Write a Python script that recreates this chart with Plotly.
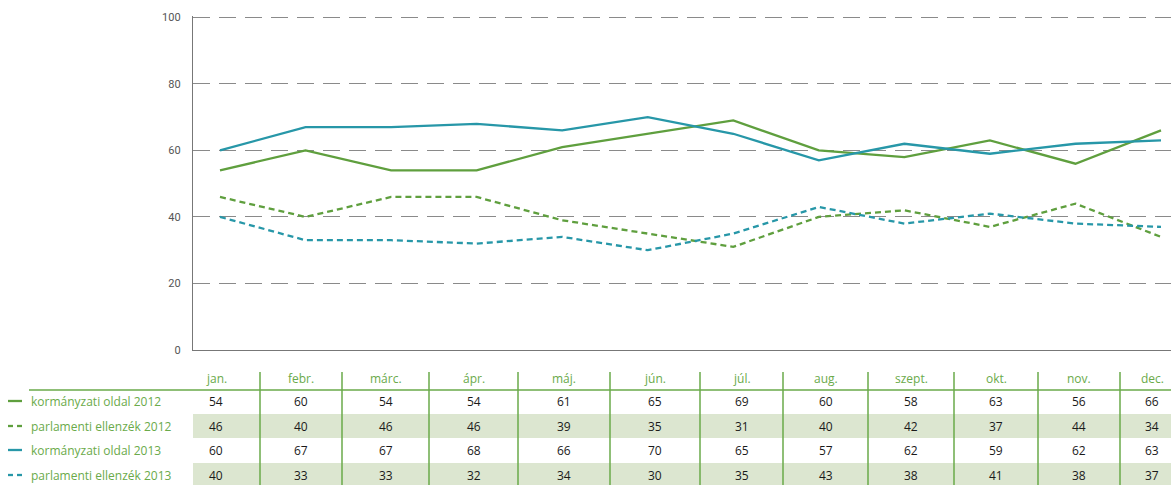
import plotly.graph_objects as go

months = ["jan.", "febr.", "márc.", "ápr.", "máj.", "jún.", "júl.", "aug.", "szept.", "okt.", "nov.", "dec."]
series_names = ["kormányzati oldal 2012", "parlamenti ellenzék 2012",
                "kormányzati oldal 2013", "parlamenti ellenzék 2013"]
gov_2012 = [54, 60, 54, 54, 61, 65, 69, 60, 58, 63, 56, 66]
opp_2012 = [46, 40, 46, 46, 39, 35, 31, 40, 42, 37, 44, 34]
gov_2013 = [60, 67, 67, 68, 66, 70, 65, 57, 62, 59, 62, 63]
opp_2013 = [40, 33, 33, 32, 34, 30, 35, 43, 38, 41, 38, 37]
y_ticks = [0, 20, 40, 60, 80, 100]

GREEN = "#5f9f3e"
TEAL = "#2797a8"
LABEL_GREEN = "#6aaa4a"
SHADE = "#dce6d0"

W, H = 1171, 485
L, R, T, B = 193, 0, 16, 135
PW, PH = W - L - R, H - T - B

def px(x):
    return (x - L) / PW

def py(y):
    return (H - B - y) / PH

series = [
    (series_names[0], gov_2012, GREEN, "solid"),
    (series_names[1], opp_2012, GREEN, "dash"),
    (series_names[2], gov_2013, TEAL, "solid"),
    (series_names[3], opp_2013, TEAL, "dash"),
]

fig = go.Figure()
for name, vals, col, dash in series:
    fig.add_trace(go.Scatter(
        x=months, y=vals, mode="lines", name=name,
        line=dict(color=col, width=2.3, dash="6px,4px" if dash == "dash" else "solid"),
        hoverinfo="x+y+name",
    ))

shapes = []
annotations = []

# table layout (pixels)
col_edges = [172, 260, 342, 429, 518, 610, 700, 783, 868, 954, 1038, 1120, 1184]
col_lines = col_edges[1:-1]
header_y = 378
row_y = [401, 426, 450, 475]
row_bands = [(414, 438), (463, 489)]

for y0, y1 in row_bands:
    shapes.append(dict(type="rect", xref="paper", yref="paper",
                       x0=px(193), x1=px(W), y0=py(y1), y1=py(y0),
                       fillcolor=SHADE, line=dict(width=0), layer="below"))
shapes.append(dict(type="line", xref="paper", yref="paper",
                   x0=px(29), x1=px(W), y0=py(390), y1=py(390),
                   line=dict(color=LABEL_GREEN, width=1.5)))
for xv in col_lines:
    shapes.append(dict(type="line", xref="paper", yref="paper",
                       x0=px(xv), x1=px(xv), y0=py(372), y1=py(H + 2),
                       line=dict(color=LABEL_GREEN, width=1.5)))

centers = [(col_edges[i] + col_edges[i + 1]) / 2 for i in range(len(months))]
for m, cx in zip(months, centers):
    annotations.append(dict(x=px(cx), y=py(header_y), xref="paper", yref="paper",
                            text=m, showarrow=False,
                            font=dict(family="Open Sans", size=12, color=LABEL_GREEN),
                            xanchor="center", yanchor="middle"))

for (name, vals, col, dash), ry in zip(series, row_y):
    if dash == "solid":
        shapes.append(dict(type="line", xref="paper", yref="paper",
                           x0=px(8), x1=px(22), y0=py(ry), y1=py(ry),
                           line=dict(color=col, width=2.3)))
    else:
        for k in range(2):
            shapes.append(dict(type="line", xref="paper", yref="paper",
                               x0=px(8 + k * 9), x1=px(13 + k * 9), y0=py(ry), y1=py(ry),
                               line=dict(color=col, width=2.3)))
    annotations.append(dict(x=px(29), y=py(ry), xref="paper", yref="paper",
                            text=name, showarrow=False,
                            font=dict(family="Open Sans", size=12, color=LABEL_GREEN),
                            xanchor="left", yanchor="middle"))
    for v, cx in zip(vals, centers):
        annotations.append(dict(x=px(cx), y=py(ry), xref="paper", yref="paper",
                                text=str(v), showarrow=False,
                                font=dict(family="Open Sans", size=12, color="#1a1a1a"),
                                xanchor="center", yanchor="middle"))

step = (1161 - 220) / 11
x_lo = -(220 - L) / step
x_hi = 11 + (W - 1161) / step

fig.update_layout(
    width=W, height=H,
    margin=dict(l=L, r=R, t=T, b=B),
    paper_bgcolor="white", plot_bgcolor="white",
    showlegend=False,
    shapes=shapes, annotations=annotations,
    xaxis=dict(type="category", range=[x_lo, x_hi], showticklabels=False,
               showgrid=False, zeroline=False, showline=True,
               linecolor="#777777", linewidth=1.3, ticks=""),
    yaxis=dict(range=[0, 100.4], tickvals=y_ticks, showgrid=True,
               gridcolor="#8a8a8a", gridwidth=1.2, griddash="17px,9px",
               zeroline=False, showline=True, linecolor="#777777", linewidth=1.3,
               ticks="", ticklabelstandoff=9,
               tickfont=dict(family="Roboto", size=11, color="#555555")),
)

fig.write_html("out.html", config={"displayModeBar": False},
               post_script="document.body.style.margin='0px';document.body.style.overflow='hidden';")
